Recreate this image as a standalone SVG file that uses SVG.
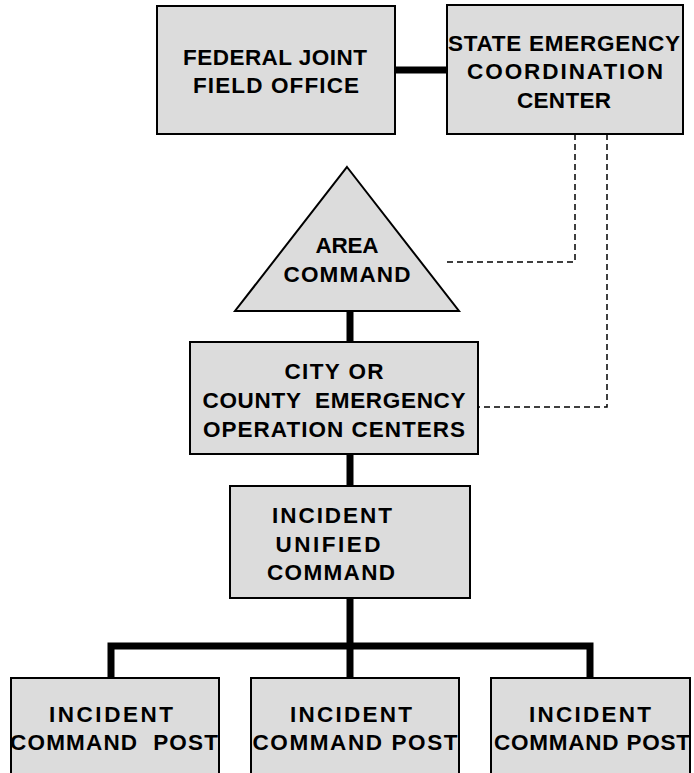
<svg xmlns="http://www.w3.org/2000/svg" width="694" height="773" viewBox="0 0 694 773">
<style>
.box{fill:#dcdcdc;stroke:#000;stroke-width:2}
.t{font-family:"Liberation Sans",Arial,sans-serif;font-weight:bold;font-size:22.5px;text-anchor:middle;fill:#000}
.thick{stroke:#000;stroke-width:7;fill:none}
.dash{stroke:#000;stroke-width:1.5;fill:none;stroke-dasharray:6,4}
</style>
<rect width="694" height="773" fill="#fff"/>
<g id="connectors">
<line class="thick" x1="395" y1="70" x2="447" y2="70"/>
<polyline class="dash" points="575,134 575,262 446,262"/>
<polyline class="dash" points="607,134 607,407 478,407"/>
<line class="thick" x1="350" y1="311" x2="350" y2="342"/>
<line class="thick" x1="350" y1="454" x2="350" y2="486"/>
<line class="thick" x1="350" y1="598" x2="350" y2="678"/>
<polyline class="thick" points="111,678 111,646 590,646 590,678"/>
</g>
<g id="federal">
<rect class="box" x="157" y="6" width="238" height="128"/>
<text class="t" x="275" y="65" textLength="184" lengthAdjust="spacing">FEDERAL JOINT</text>
<text class="t" x="276" y="93" textLength="166" lengthAdjust="spacing">FIELD OFFICE</text>
</g>
<g id="state">
<rect class="box" x="447" y="5" width="236" height="129"/>
<text class="t" x="564" y="51" textLength="232" lengthAdjust="spacing">STATE EMERGENCY</text>
<text class="t" x="565" y="79" textLength="196" lengthAdjust="spacing">COORDINATION</text>
<text class="t" x="564" y="108" textLength="94" lengthAdjust="spacing">CENTER</text>
</g>
<g id="area">
<polygon class="box" points="347,167 459,311 235,311"/>
<text class="t" x="347" y="253" textLength="63" lengthAdjust="spacing">AREA</text>
<text class="t" x="347" y="282" textLength="127" lengthAdjust="spacing">COMMAND</text>
</g>
<g id="city">
<rect class="box" x="190" y="342" width="288" height="112"/>
<text class="t" x="334" y="379" textLength="99" lengthAdjust="spacing">CITY OR</text>
<text class="t" x="334" y="408" textLength="263" lengthAdjust="spacing" xml:space="preserve">COUNTY  EMERGENCY</text>
<text class="t" x="334" y="437" textLength="262" lengthAdjust="spacing">OPERATION CENTERS</text>
</g>
<g id="incident">
<rect class="box" x="230" y="486" width="240" height="112"/>
<text class="t" x="332" y="523" textLength="120" lengthAdjust="spacing">INCIDENT</text>
<text class="t" x="328" y="552" textLength="105" lengthAdjust="spacing">UNIFIED</text>
<text class="t" x="331" y="580" textLength="128" lengthAdjust="spacing">COMMAND</text>
</g>
<g id="post1">
<rect class="box" x="11" y="678" width="208" height="110"/>
<text class="t" x="111" y="722" textLength="124" lengthAdjust="spacing">INCIDENT</text>
<text class="t" x="114" y="750" textLength="208" lengthAdjust="spacing" xml:space="preserve">COMMAND  POST</text>
</g>
<g id="post2">
<rect class="box" x="251" y="678" width="208" height="110"/>
<text class="t" x="351" y="722" textLength="122" lengthAdjust="spacing">INCIDENT</text>
<text class="t" x="355" y="750" textLength="205" lengthAdjust="spacing">COMMAND POST</text>
</g>
<g id="post3">
<rect class="box" x="491" y="678" width="199" height="110"/>
<text class="t" x="590" y="722" textLength="122" lengthAdjust="spacing">INCIDENT</text>
<text class="t" x="592" y="750" textLength="196" lengthAdjust="spacing">COMMAND POST</text>
</g>
</svg>
